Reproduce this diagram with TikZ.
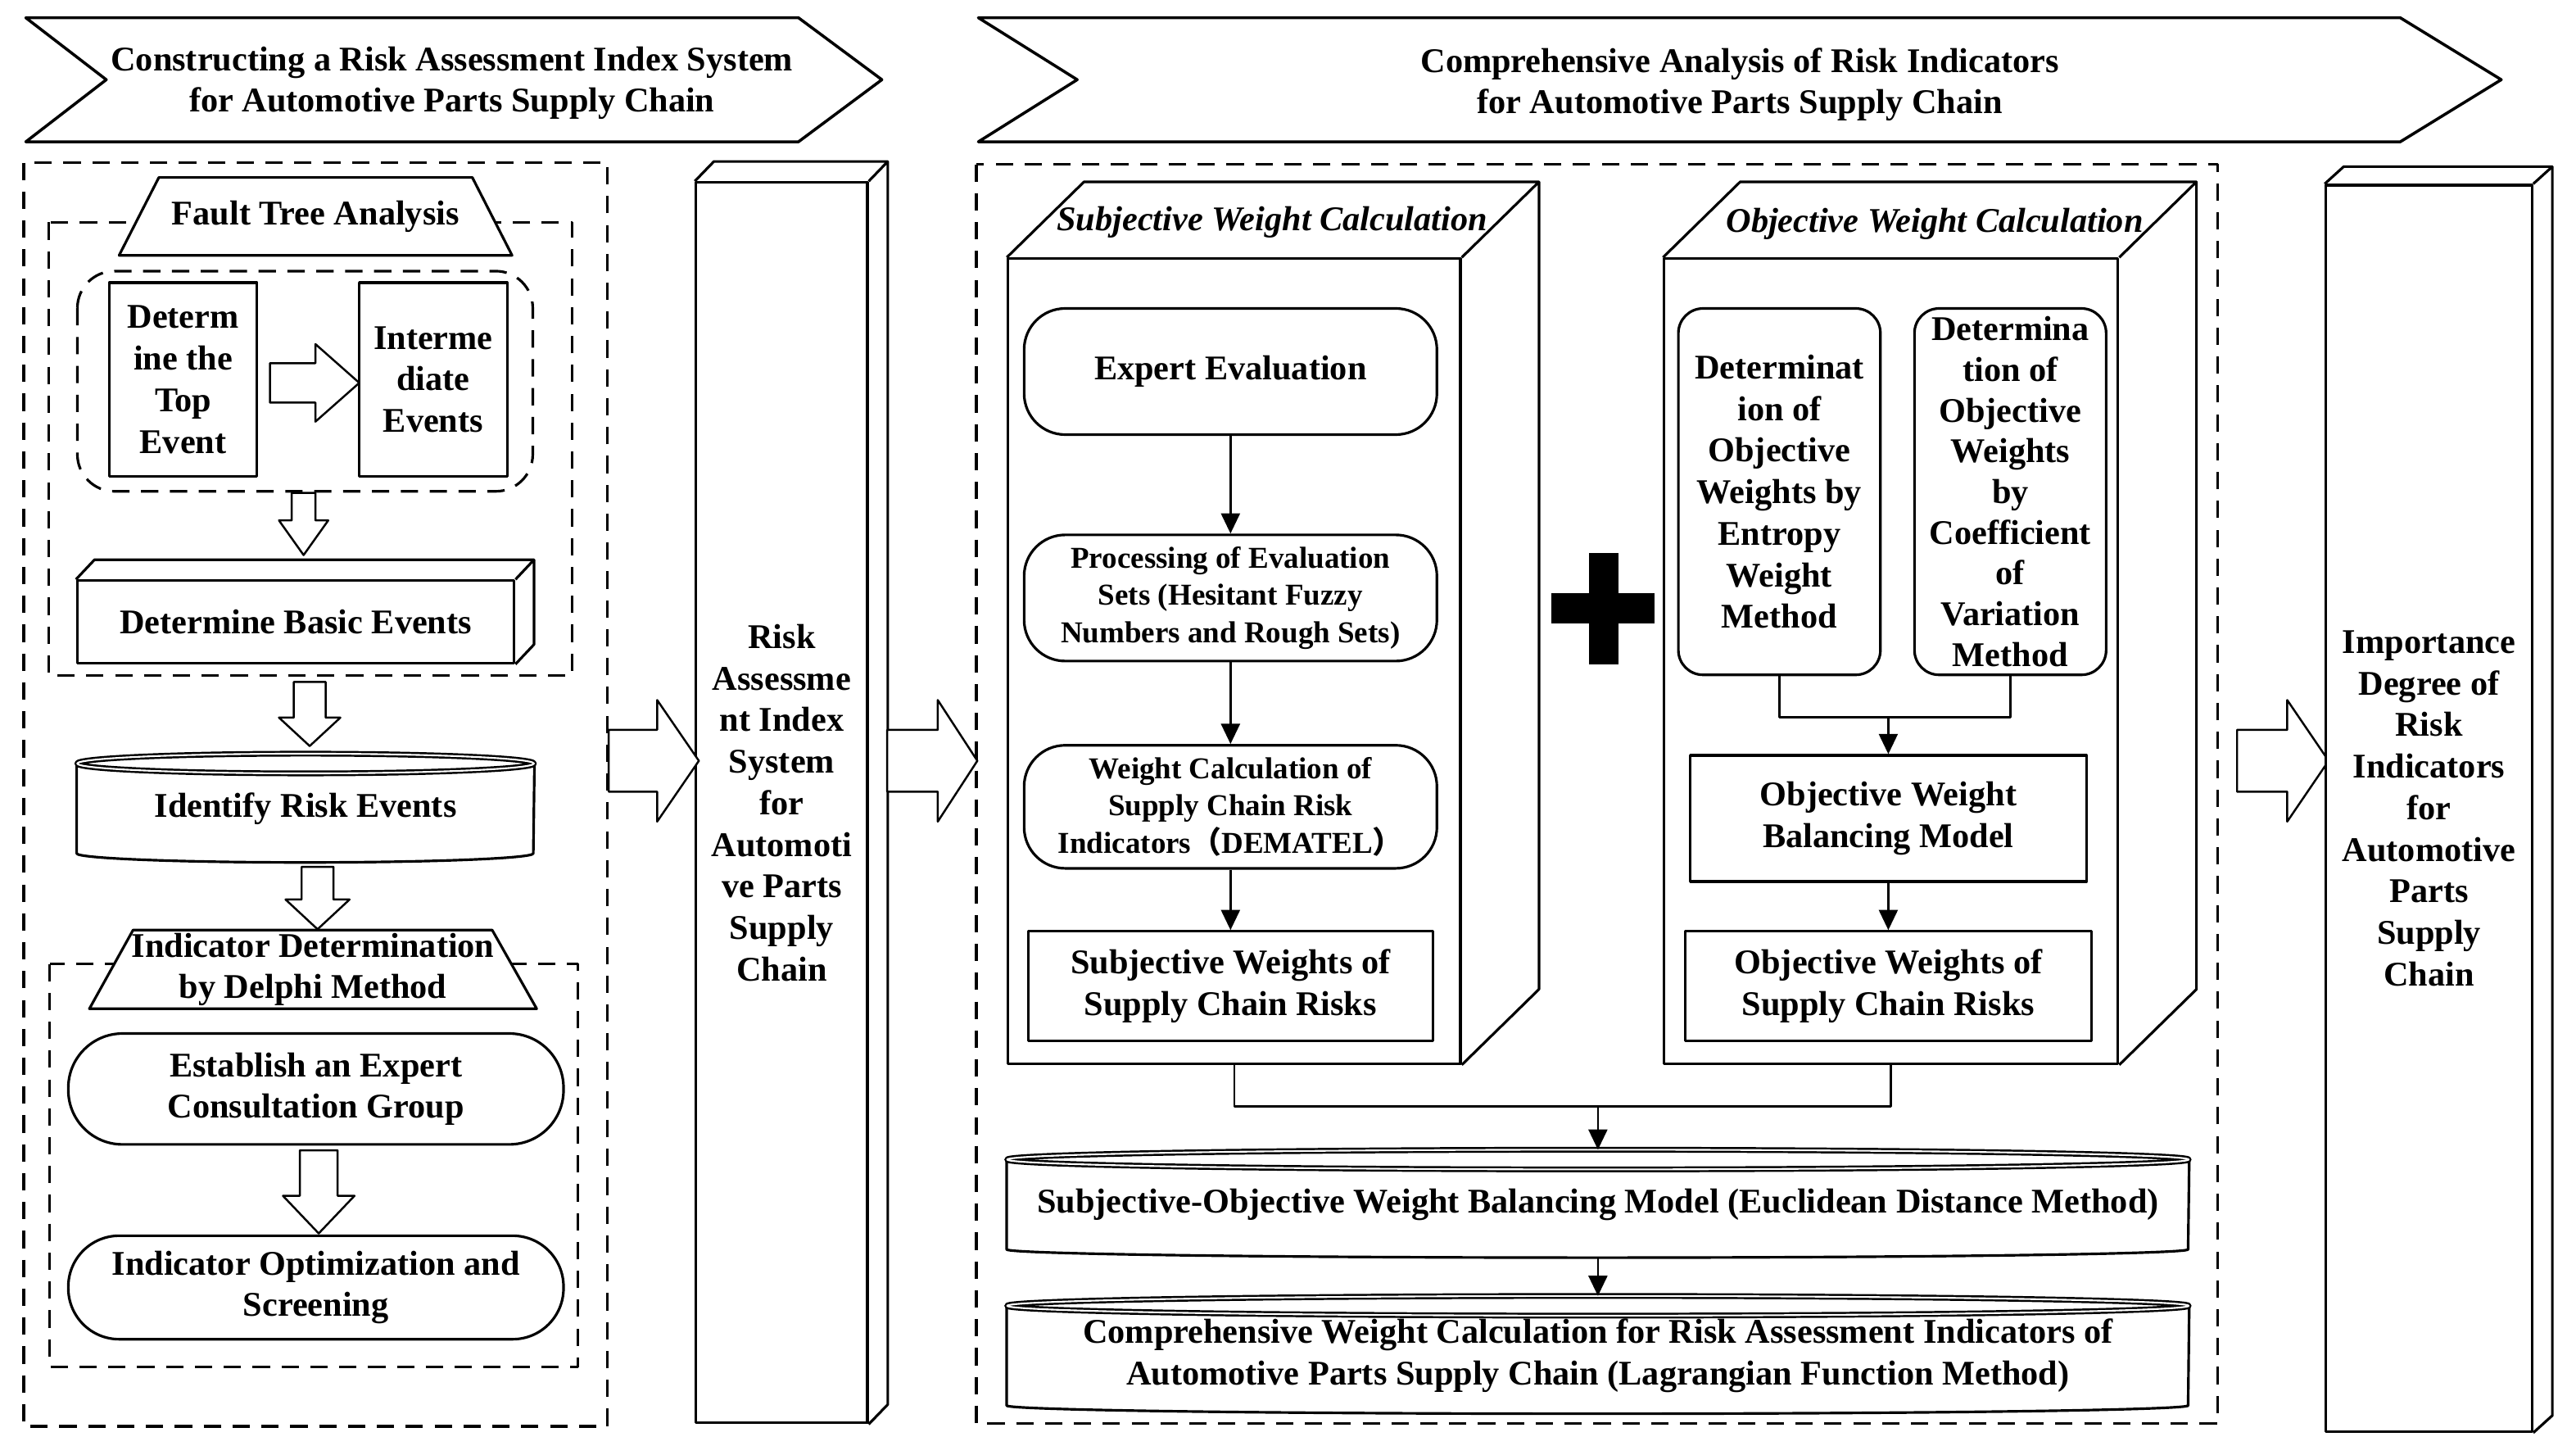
\documentclass[tikz,border=0pt]{standalone}
\usepackage{fontspec}
\setmainfont{Liberation Serif}
\newfontfamily\cjkfont{Noto Sans CJK SC}
\usetikzlibrary{arrows.meta, calc}

\newcommand{\boxdepth}[3]{%
  \draw[line width=0.9pt] (#1.north west) -- ++(#2,-#3) -- ($(#1.north east)+(#2,-#3)$)
    -- ($(#1.south east)+(#2,-#3)$) -- (#1.south east) (#1.north east) -- ++(#2,-#3);}

\begin{document}
\begin{tikzpicture}[x=0.02cm, y=-0.02cm, line join=round]
	\tikzset{
		every node/.style={font=\fontsize{12}{14.4}\selectfont\bfseries, align=center, inner sep=0pt},
		smallfont/.style={font=\fontsize{10.5}{13}\selectfont\bfseries},
		titlefont/.style={font=\fontsize{12}{14.4}\selectfont\bfseries\itshape},
		box/.style={draw, line width=0.9pt, fill=white},
		rbox/.style={box, rounded corners=#1},
		dashbox/.style={line width=0.9pt, dash pattern=on 6pt off 4pt},
		arr/.style={line width=0.8pt, -{Triangle[length=7pt, width=6.5pt]}},
		pics/hollow/.style args={#1/#2/#3/#4}{code={
			\draw[line width=0.7pt, fill=white] (-#3,0) -- (#3,0) -- (#3,#2) -- (#4,#2) -- (0,#1) -- (-#4,#2) -- (-#3,#2) -- cycle;}}
	};

	\useasboundingbox (0,0) rectangle (1568,885.3);

	\draw[line width=1pt] (15.7,10.8) -- (486,10.8) -- (536.8,48.5) -- (486,86.3) -- (15.7,86.3) -- (64.7,48.5) -- cycle;
	\draw[line width=1pt] (595.5,10.8) -- (1461,10.8) -- (1522.5,48.5) -- (1461,86.3) -- (595.5,86.3) -- (655.7,48.5) -- cycle;
	\node (hdrL) at (275.1,50.5) {Constructing a Risk Assessment Index System\\for Automotive Parts Supply Chain};
	\node (hdrR) at (1059,51.5) {Comprehensive Analysis of Risk Indicators\\for Automotive Parts Supply Chain};

	\draw[dashbox] (14.5,99) rectangle (369.7,868);
	\draw[dashbox] (29.5,135.3) rectangle (348.4,411);
	\draw[dashbox, rounded corners=0.45cm] (47.1,165) rectangle (324.3,299);
	\draw[dashbox] (30.2,586.6) rectangle (351.6,832);
	\draw[dashbox] (594.3,100) rectangle (1350,866.4);

	\filldraw[box] (72.5,155.4) -- (96.7,108) -- (287.5,108) -- (311.7,155.4) -- cycle;
	\node (fta) at (192.1,131.7) {Fault Tree Analysis};
	\node[box, minimum width=1.8cm, minimum height=2.36cm] (topev) at (111.5,231) {Determ\\ine the\\Top\\Event};
	\node[box, minimum width=1.8cm, minimum height=2.36cm] (midev) at (263.7,231) {Interme\\diate\\Events};
	\node[box, minimum width=5.32cm, minimum height=1.0cm] (basic) at (180,378.4) {Determine Basic Events};
	\boxdepth{basic}{11.3}{12}

	\node[minimum width=5.56cm, minimum height=1.08cm] (idrisk) at (186,492) {Identify Risk Events};
	\draw[line width=0.9pt] (idrisk.north west) -- (idrisk.south west) arc[start angle=180, end angle=360, x radius=2.78cm, y radius=0.11cm] -- (idrisk.north east);
	\draw[line width=0.7pt, double, double distance=0.6pt] (idrisk.north) ellipse[x radius=2.78cm, y radius=0.12cm];

	\filldraw[box] (54.4,613.9) -- (81,566) -- (299.6,566) -- (326.7,613.9) -- cycle;
	\node (delphi) at (190.5,590) {Indicator Determination\\by Delphi Method};
	\node[rbox=0.66cm, minimum width=6.03cm, minimum height=1.35cm] (expgrp) at (192.3,662.7) {Establish an Expert\\Consultation Group};
	\node[rbox=0.62cm, minimum width=6.03cm, minimum height=1.26cm] (optim) at (192.3,783.5) {Indicator Optimization and\\Screening};

	\pic[rotate=90] at (164.3,233) {hollow=54.4/27.7/12/23.6};
	\pic at (184.8,300) {hollow=37.8/16.7/7.2/15};
	\pic at (188.5,415) {hollow=39/21.7/9.7/18.7};
	\pic at (193.3,527.5) {hollow=38/19.9/9.7/19.5};
	\pic at (194,700) {hollow=50.6/27.7/11.5/21.8};

	\node[box, minimum width=2.086cm, minimum height=15.1cm] (ras) at (475.85,488.5) {Risk\\Assessme\\nt Index\\System\\for\\Automoti\\ve Parts\\Supply\\Chain};
	\boxdepth{ras}{11.6}{12}

	\pic[rotate=90] at (370.5,463) {hollow=54.9/29.5/18.8/37};
	\pic[rotate=90] at (540,463) {hollow=54.9/30.8/18.8/37};
	\pic[rotate=90] at (1361.7,463) {hollow=55.7/30.5/18.8/37};

	\node[box, minimum width=5.508cm, minimum height=9.798cm] (subjbox) at (751.3,402.35) {};
	\boxdepth{subjbox}{47}{46}
	\node[titlefont] (subjtitle) at (774.3,135.4) {Subjective Weight Calculation};
	\node[rbox=0.5cm, minimum width=5.026cm, minimum height=1.536cm] (expert) at (749,226.1) {Expert Evaluation};
	\node[rbox=0.5cm, smallfont, minimum width=5.026cm, minimum height=1.536cm] (proc) at (749,363.9) {Processing of Evaluation\\Sets (Hesitant Fuzzy\\Numbers and Rough Sets)};
	\node[rbox=0.5cm, smallfont, minimum width=5.026cm, minimum height=1.498cm] (wcalc) at (749,491) {Weight Calculation of\\Supply Chain Risk\\Indicators{\cjkfont （}DEMATEL{\cjkfont ）}};
	\node[box, minimum width=4.926cm, minimum height=1.332cm] (subw) at (749,600.1) {Subjective Weights of\\Supply Chain Risks};

	\draw[arr] (expert) to (proc);
	\draw[arr] (proc) to (wcalc);
	\draw[arr] (wcalc) to (subw);

	\fill (944.4,361) rectangle (1007.3,379.3);
	\fill (967.3,336.5) rectangle (985,404.1);

	\node[box, minimum width=5.524cm, minimum height=9.798cm] (objbox) at (1151.1,402.35) {};
	\boxdepth{objbox}{47}{46}
	\node[titlefont] (objtitle) at (1177.6,136.5) {Objective Weight Calculation};
	\node[rbox=0.3cm, minimum width=2.46cm, minimum height=4.46cm] (entropy) at (1083.1,299.2) {Determinat\\ion of\\Objective\\Weights by\\Entropy\\Weight\\Method};
	\node[rbox=0.3cm, font=\fontsize{12}{14.1}\selectfont\bfseries, minimum width=2.334cm, minimum height=4.46cm] (cov) at (1223.65,299.2) {Determina\\tion of\\Objective\\Weights\\by\\Coefficient\\of\\Variation\\Method};
	\node[box, minimum width=4.824cm, minimum height=1.536cm] (owbm) at (1149.4,498.1) {Objective Weight\\Balancing Model};
	\node[box, minimum width=4.944cm, minimum height=1.332cm] (ow) at (1149.4,600.1) {Objective Weights of\\Supply Chain Risks};

	\coordinate (ojoin) at (1149.4,436.3);
	\draw[line width=0.8pt] (entropy.south) |- (ojoin) -| (cov.south);
	\draw[arr] (ojoin) to (owbm.north);
	\draw[arr] (owbm) to (ow);

	\node[minimum width=14.386cm, minimum height=1.08cm] (sobm) at (972.65,733) {Subjective-Objective Weight Balancing Model (Euclidean Distance Method)};
	\draw[line width=0.9pt] (sobm.north west) -- (sobm.south west) arc[start angle=180, end angle=360, x radius=7.193cm, y radius=0.1cm] -- (sobm.north east);
	\draw[line width=0.7pt, double, double distance=0.6pt] (sobm.north) ellipse[x radius=7.193cm, y radius=0.12cm];

	\node[minimum width=14.386cm, minimum height=1.2cm] (cwc) at (972.65,825) {Comprehensive Weight Calculation for Risk Assessment Indicators of\\Automotive Parts Supply Chain (Lagrangian Function Method)};
	\draw[line width=0.9pt] (cwc.north west) -- (cwc.south west) arc[start angle=180, end angle=360, x radius=7.193cm, y radius=0.1cm] -- (cwc.north east);
	\draw[line width=0.7pt, double, double distance=0.6pt] (cwc.north) ellipse[x radius=7.193cm, y radius=0.12cm];

	\coordinate (mjoin) at (972.65,673.5);
	\draw[line width=0.8pt] (subjbox.south) |- (mjoin) -| (objbox.south);
	\draw[arr] (mjoin) to ($(sobm.north)+(0,-6)$);
	\draw[arr] ($(sobm.south)+(0,5)$) to ($(cwc.north)+(0,-6)$);

	\node[box, minimum width=2.508cm, minimum height=15.172cm] (imp) at (1478.5,491.9) {Importance\\Degree of\\Risk\\Indicators\\for\\Automotive\\Parts\\Supply\\Chain};
	\boxdepth{imp}{11.6}{10.5}
\end{tikzpicture}
\end{document}
